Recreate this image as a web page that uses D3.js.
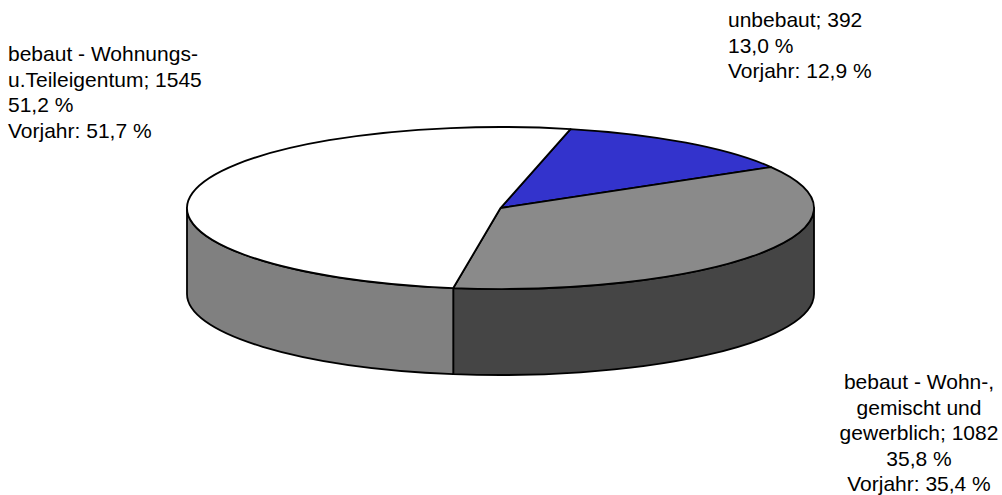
<!DOCTYPE html>
<html><head><meta charset="utf-8">
<script src="https://cdn.jsdelivr.net/npm/d3@7"></script>
<style>html,body{margin:0;padding:0;background:#fff;}svg{display:block;}</style>
</head><body>
<svg id="chart" width="1002" height="495"></svg>
<script>
const categories = ["unbebaut", "bebaut - Wohn-, gemischt und gewerblich", "bebaut - Wohnungs- u.Teileigentum"];
const labelLines = [["unbebaut; 392"], ["bebaut - Wohn-,", "gemischt und", "gewerblich; 1082"], ["bebaut - Wohnungs-", "u.Teileigentum; 1545"]];
const values = [392, 1082, 1545];
const prevYear = [12.9, 35.4, 51.7];
const colors = ["#3333cc", "#8a8a8a", "#ffffff"];
const sideColors = ["#1a1a66", "#454545", "#808080"];

const svg = d3.select("#chart");
const cx = 500.5, cy = 208, rx = 313.5, ry = 81, depth = 86;
const startDeg = 12.9;
const toRad = d => d * Math.PI / 180;

const pie = d3.pie().sort(null).value(d => d)
  .startAngle(toRad(startDeg)).endAngle(toRad(startDeg + 360));
const arcs = pie(values);
const total = d3.sum(values);

const pt = (a, dy = 0) => [cx + rx * Math.sin(a), cy - ry * Math.cos(a) + dy];

// sides (front visible portion: angles between 90° and 270°)
const lo = Math.PI / 2, hi = 3 * Math.PI / 2;
const sideG = svg.append("g");
arcs.forEach((d, i) => {
  [0, -2 * Math.PI].forEach(shift => {
    const a = Math.max(d.startAngle + shift, lo), b = Math.min(d.endAngle + shift, hi);
    if (b <= a) return;
    const p1 = pt(a), p2 = pt(b), p3 = pt(b, depth), p4 = pt(a, depth);
    const large = (b - a) > Math.PI ? 1 : 0;
    const dstr = `M${p1[0]},${p1[1]} A${rx},${ry} 0 ${large} 1 ${p2[0]},${p2[1]} L${p3[0]},${p3[1]} A${rx},${ry} 0 ${large} 0 ${p4[0]},${p4[1]} Z`;
    sideG.append("path").attr("d", dstr)
      .attr("fill", sideColors[i]).attr("stroke", "#000").attr("stroke-width", 1.8)
      .attr("stroke-linejoin", "round");
  });
});

// top faces
const topG = svg.append("g");
arcs.forEach((d, i) => {
  const p1 = pt(d.startAngle), p2 = pt(d.endAngle);
  const large = (d.endAngle - d.startAngle) > Math.PI ? 1 : 0;
  topG.append("path")
    .attr("d", `M${cx},${cy} L${p1[0]},${p1[1]} A${rx},${ry} 0 ${large} 1 ${p2[0]},${p2[1]} Z`)
    .attr("fill", colors[i]).attr("stroke", "#000").attr("stroke-width", 1.8)
    .attr("stroke-linejoin", "round");
});

// labels
const fmt = v => d3.format(".1f")(v).replace(".", ",") + " %";
const labelPos = [
  {x: 728, y: 27, anchor: "start"},
  {x: 919, y: 389, anchor: "middle"},
  {x: 8, y: 61, anchor: "start"}
];
const lh = 25.5;
arcs.forEach((d, i) => {
  const lines = labelLines[i].concat([fmt(values[i] / total * 100), "Vorjahr: " + fmt(prevYear[i])]);
  const t = svg.append("text")
    .attr("font-family", "Liberation Sans, Arial, sans-serif")
    .attr("font-size", 21).attr("fill", "#000")
    .attr("text-anchor", labelPos[i].anchor);
  lines.forEach((l, j) => {
    t.append("tspan").attr("x", labelPos[i].x).attr("y", labelPos[i].y + j * lh).text(l);
  });
});
</script>
</body></html>
